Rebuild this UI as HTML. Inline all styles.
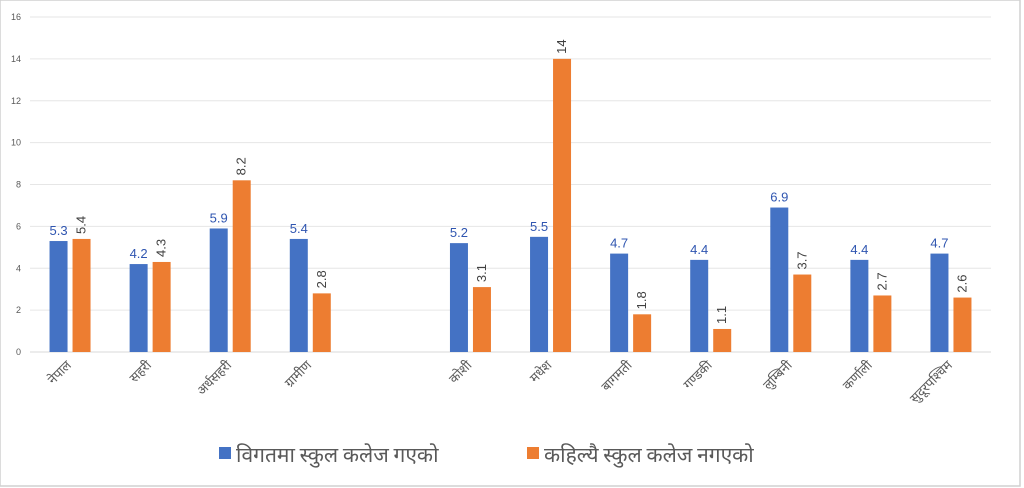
<!DOCTYPE html>
<html><head><meta charset="utf-8"><style>
body{margin:0;background:#fff;}
#wrap{position:relative;width:1024px;height:488px;overflow:hidden;}
svg{font-family:"Liberation Sans","Noto Sans CJK SC",sans-serif;}
</style></head><body>
<div id="wrap">
<svg id="chart" width="1024" height="488">
<rect x="0" y="0" width="1020" height="486" fill="#fff" stroke="#d0d0d0" stroke-width="1.5"/>
<g id="grid"></g>
<g id="yticks"></g>
<g id="bars"></g>
<g id="xlabels"></g>
<g>
<g>
<rect x="219" y="447" width="12" height="12" fill="#4472c4"/>
<text x="236" y="462" font-size="21" fill="#595959" font-family="'Noto Sans CJK SC','Liberation Sans',sans-serif">विगतमा स्कुल कलेज गएको</text>
</g>
<g>
<rect x="527" y="447" width="12" height="12" fill="#ed7d31"/>
<text x="544" y="462" font-size="21" fill="#595959" font-family="'Noto Sans CJK SC','Liberation Sans',sans-serif">कहिल्यै स्कुल कलेज नगएको</text>
</g>
</g>
</svg>
</div>
<script>
const categories=["नेपाल","सहरी","अर्धसहरी","ग्रामीण","","कोशी","मधेश","बागमती","गण्डकी","लुम्बिनी","कर्णाली","सुदूरपश्चिम"];
const pastValues=[5.3,4.2,5.9,5.4,null,5.2,5.5,4.7,4.4,6.9,4.4,4.7];
const neverValues=[5.4,4.3,8.2,2.8,null,3.1,14,1.8,1.1,3.7,2.7,2.6];
const yTicks=[0,2,4,6,8,10,12,14,16];
const NS="http://www.w3.org/2000/svg";
const X0=30,X1=991,Y0=352,Y1=17,YMAX=16;
const slotW=(X1-X0)/categories.length;
function yScale(v){return Y0-(v/YMAX)*(Y0-Y1);}
function xSlot(i){return X0+slotW*(i+0.5);}
function mk(tag,attrs,parent){const e=document.createElementNS(NS,tag);for(const k in attrs)e.setAttribute(k,attrs[k]);parent.appendChild(e);return e;}
const grid=document.getElementById('grid'),yt=document.getElementById('yticks'),bars=document.getElementById('bars'),xl=document.getElementById('xlabels');
yTicks.forEach(t=>{
  const l=mk('line',{x1:X0,x2:X1,y1:yScale(t),y2:yScale(t),stroke:t===0?'#d9d9d9':'#e6e6e6','stroke-width':1},grid);
  
  
  const tx=mk('text',{x:21,y:yScale(t)+3,'font-size':9,fill:'#595959','text-anchor':'end'},yt);
  tx.textContent=t;
  
  
});
const bw=18,gap=5;
categories.forEach((c,i)=>{
  const cx=xSlot(i);
  if(pastValues[i]!=null){
    const v=pastValues[i];
    const r=mk('rect',{x:cx-gap/2-bw,y:yScale(v),width:bw,height:Y0-yScale(v),fill:'#4472c4'},bars);
    
    
    const t=mk('text',{x:cx-gap/2-bw/2,y:yScale(v)-6,'font-size':13,fill:'#2f55b0','text-anchor':'middle'},bars);
    t.textContent=v;
    
    
  }
  if(neverValues[i]!=null){
    const v=neverValues[i];
    const r=mk('rect',{x:cx+gap/2,y:yScale(v),width:bw,height:Y0-yScale(v),fill:'#ed7d31'},bars);
    
    
    const lx=cx+gap/2+bw/2+4, ly=yScale(v)-5;
    const t=mk('text',{x:lx,y:ly,'font-size':13,fill:'#404040','text-anchor':'start',transform:`rotate(-90 ${lx} ${ly})`},bars);
    t.textContent=v;
    
    
  }
  if(c){
    const lx=cx+2, ly=366;
    const t=mk('text',{x:lx,y:ly,'font-size':13,fill:'#595959','text-anchor':'end',transform:`rotate(-45 ${lx} ${ly})`,'font-family':"'Noto Sans CJK SC','Liberation Sans',sans-serif"},xl);
    t.textContent=c;
    
    
  }
});
</script>
</body></html>
